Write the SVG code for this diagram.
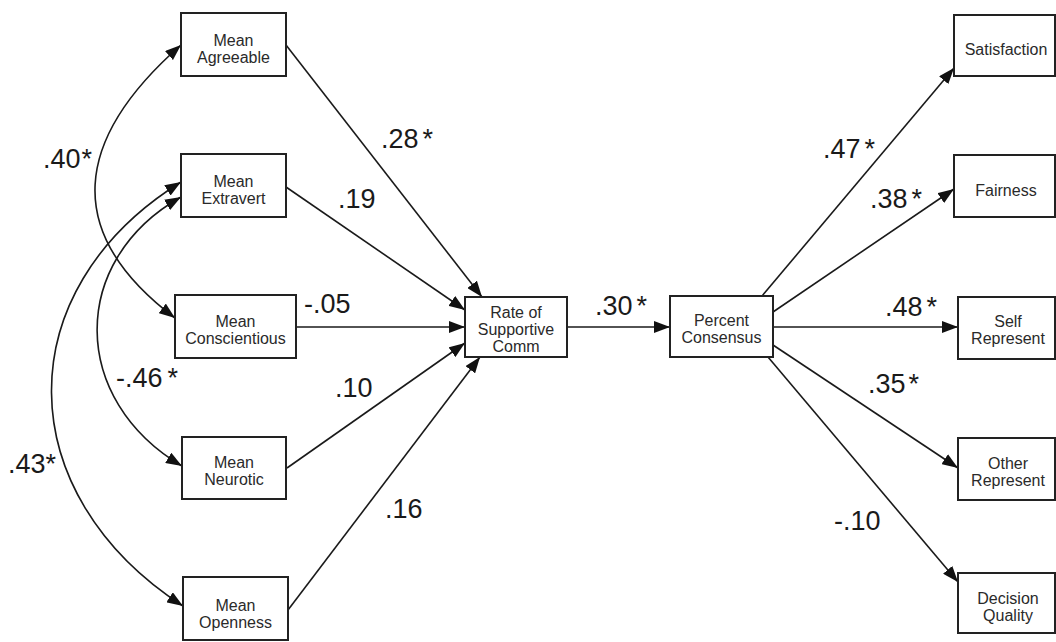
<svg xmlns="http://www.w3.org/2000/svg" width="1056" height="642" viewBox="0 0 1056 642">
<defs>
<marker id="ah" viewBox="0 0 16 12" refX="16" refY="6" markerUnits="userSpaceOnUse" markerWidth="16" markerHeight="12" orient="auto-start-reverse">
<path d="M0,0 L16,6 L0,12 z" fill="#111"/>
</marker>
<style>
.box{fill:#fff;stroke:#222;stroke-width:2}
.nt{font-family:"Liberation Sans",Arial,sans-serif;font-size:16px;fill:#2a2a2a;text-anchor:middle}
.lb{font-family:"Liberation Sans",Arial,sans-serif;font-size:27px;fill:#1a1a1a}
.ln{fill:none;stroke:#1a1a1a;stroke-width:1.6;marker-end:url(#ah)}
.cv{fill:none;stroke:#1a1a1a;stroke-width:1.6;marker-start:url(#ah);marker-end:url(#ah)}
</style>
</defs>
<rect width="1056" height="642" fill="#fff"/>
<g id="connectors">
<path class="ln" d="M286,45 L482,297"/>
<path class="ln" d="M286,187 L465,310"/>
<path class="ln" d="M296,327 L465,327"/>
<path class="ln" d="M287,468 L465,343"/>
<path class="ln" d="M288,610 L480,357"/>
<path class="ln" d="M567,327 L670,327"/>
<path class="ln" d="M762,296 L954,68"/>
<path class="ln" d="M773,312 L954,189"/>
<path class="ln" d="M773,327 L958,327"/>
<path class="ln" d="M773,345 L958,468"/>
<path class="ln" d="M768,357 L958,582"/>
<path class="cv" d="M181,45 C74,139 61,232 175,318"/>
<path class="cv" d="M181,197 C68,261 70,400 182,466"/>
<path class="cv" d="M181,182 C6,291 10,494 183,606"/>
</g>
<g id="labels">
<text class="lb" x="43" y="168">.40<tspan dx="1">*</tspan></text>
<text class="lb" x="381" y="148">.28<tspan dx="4">*</tspan></text>
<text class="lb" x="338" y="208">.19</text>
<text class="lb" x="304" y="313">-.05</text>
<text class="lb" x="335" y="397">.10</text>
<text class="lb" x="385" y="518">.16</text>
<text class="lb" x="116" y="387">-.46<tspan dx="5">*</tspan></text>
<text class="lb" x="8" y="473">.43<tspan dx="0">*</tspan></text>
<text class="lb" x="595" y="315">.30<tspan dx="4">*</tspan></text>
<text class="lb" x="823" y="158">.47<tspan dx="4">*</tspan></text>
<text class="lb" x="870" y="208">.38<tspan dx="4">*</tspan></text>
<text class="lb" x="885" y="316">.48<tspan dx="4">*</tspan></text>
<text class="lb" x="868" y="393">.35<tspan dx="3">*</tspan></text>
<text class="lb" x="834" y="530">-.10</text>
</g>
<g id="agreeable"><rect class="box" x="181" y="13" width="105" height="63"/><text class="nt" x="233.5" y="46">Mean</text><text class="nt" x="233.5" y="63">Agreeable</text></g>
<g id="extravert"><rect class="box" x="181" y="154" width="105" height="63"/><text class="nt" x="233.5" y="187">Mean</text><text class="nt" x="233.5" y="204">Extravert</text></g>
<g id="conscientious"><rect class="box" x="175" y="295" width="121" height="63"/><text class="nt" x="235.5" y="327">Mean</text><text class="nt" x="235.5" y="344">Conscientious</text></g>
<g id="neurotic"><rect class="box" x="182" y="437" width="104" height="62"/><text class="nt" x="234" y="468">Mean</text><text class="nt" x="234" y="485">Neurotic</text></g>
<g id="openness"><rect class="box" x="183" y="577" width="105" height="63"/><text class="nt" x="235.5" y="611">Mean</text><text class="nt" x="235.5" y="628">Openness</text></g>
<g id="rate"><rect class="box" x="465" y="297" width="102" height="60"/><text class="nt" x="516" y="318">Rate of</text><text class="nt" x="516" y="335">Supportive</text><text class="nt" x="516" y="352">Comm</text></g>
<g id="percent"><rect class="box" x="670" y="296" width="103" height="61"/><text class="nt" x="721.5" y="326">Percent</text><text class="nt" x="721.5" y="343">Consensus</text></g>
<g id="satisfaction"><rect class="box" x="954" y="15" width="101" height="61"/><text class="nt" x="1006" y="55">Satisfaction</text></g>
<g id="fairness"><rect class="box" x="954" y="155" width="101" height="62"/><text class="nt" x="1006" y="196">Fairness</text></g>
<g id="self"><rect class="box" x="958" y="297" width="97" height="62"/><text class="nt" x="1008" y="327">Self</text><text class="nt" x="1008" y="344">Represent</text></g>
<g id="other"><rect class="box" x="958" y="438" width="97" height="62"/><text class="nt" x="1008" y="469">Other</text><text class="nt" x="1008" y="486">Represent</text></g>
<g id="decision"><rect class="box" x="958" y="573" width="97" height="60"/><text class="nt" x="1008" y="604">Decision</text><text class="nt" x="1008" y="621">Quality</text></g>
</svg>
